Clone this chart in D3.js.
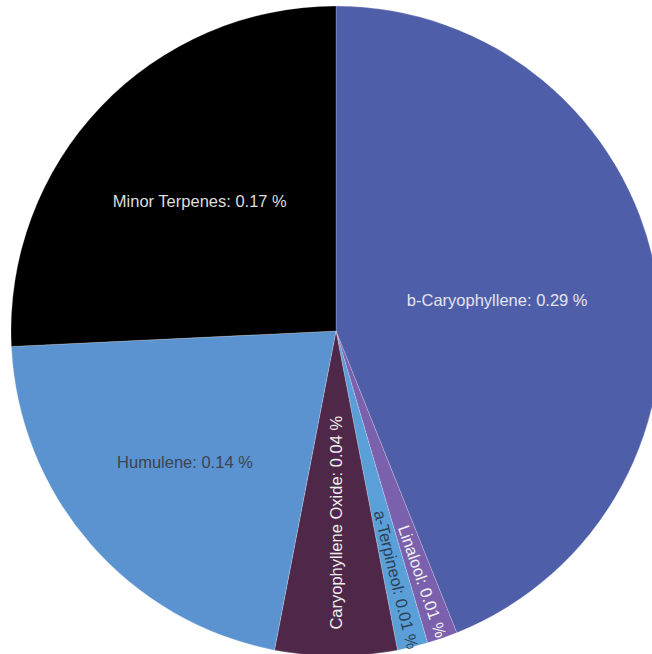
<!DOCTYPE html>
<html>
<head>
<meta charset="utf-8">
<script src="https://cdn.jsdelivr.net/npm/d3@7"></script>
<style>
  html, body { margin: 0; padding: 0; background: #fff; overflow: hidden; }
  svg { display: block; }
</style>
</head>
<body>
<script>
// ---- data ----
const categories = ["b-Caryophyllene", "Linalool", "a-Terpineol", "Caryophyllene Oxide", "Humulene", "Minor Terpenes"];
const values = [0.29, 0.01, 0.01, 0.04, 0.14, 0.17];
const colors = ["#4f5ea9", "#7b60ad", "#5a9fd8", "#4f2849", "#5b92d0", "#000000"];
const textColors = ["#e4e4ee", "#f2f2f2", "#2d3f55", "#eeeeee", "#3d4452", "#dddddd"];

// ---- layout (styling, not data) ----
const W = 652, H = 654;
const cx = 336, cy = 331, R = 325;
// label radial placement factor and orientation per slice
const labelRadius = [0.505, 0.815, 0.787, 0.59, 0.615, 0.579];
const labelRadial = [false, true, true, true, false, false];

const svg = d3.select("body").append("svg").attr("width", W).attr("height", H);
const g = svg.append("g").attr("transform", `translate(${cx},${cy})`);

const data = categories.map((c, i) => ({ name: c, value: values[i], i }));
const pie = d3.pie().value(d => d.value).sort(null);
const arc = d3.arc().innerRadius(0).outerRadius(R);
const arcs = pie(data);

g.selectAll("path.slice").data(arcs).enter().append("path")
  .attr("class", "slice")
  .attr("d", arc)
  .attr("fill", d => colors[d.data.i])
  .attr("stroke", "rgba(255,255,255,0.35)")
  .attr("stroke-width", 0.6);

g.selectAll("text.lbl").data(arcs).enter().append("text")
  .attr("class", "lbl")
  .attr("text-anchor", "middle")
  .attr("dominant-baseline", "central")
  .attr("font-family", "'Liberation Sans', Arial, sans-serif")
  .attr("font-size", 16.5)
  .attr("fill", d => textColors[d.data.i])
  .attr("transform", d => {
    const a = (d.startAngle + d.endAngle) / 2;
    const r = R * labelRadius[d.data.i];
    const x = r * Math.sin(a), y = -r * Math.cos(a);
    let rot = 0;
    if (labelRadial[d.data.i]) {
      rot = a * 180 / Math.PI - 90;
      if (rot > 89.9) rot -= 180;
      if (rot < -90) rot += 180;
    }
    return `translate(${x},${y}) rotate(${rot})`;
  })
  .text(d => `${d.data.name}: ${d.data.value} %`);
</script>
</body>
</html>
